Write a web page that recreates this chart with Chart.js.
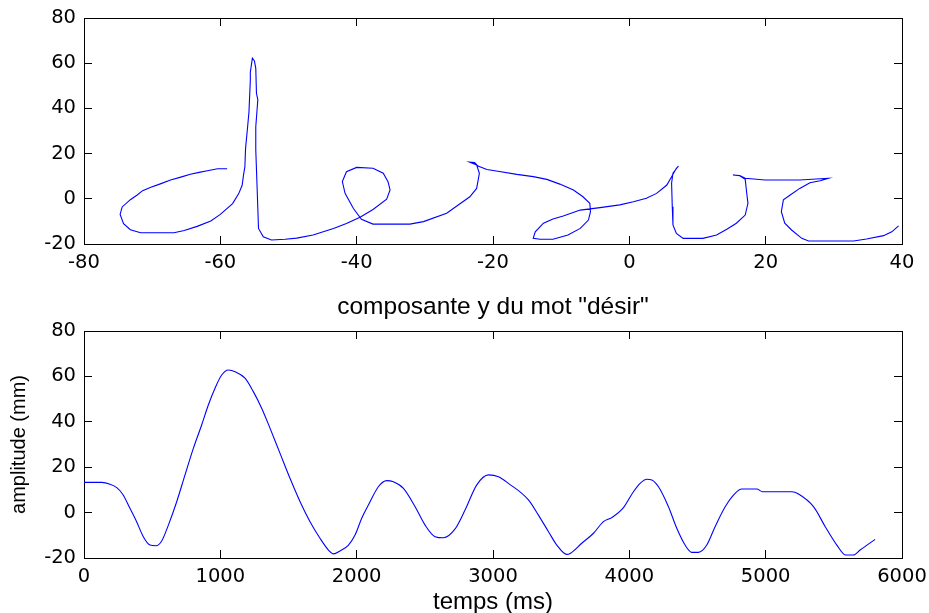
<!DOCTYPE html>
<html lang="fr">
<head>
<meta charset="utf-8">
<title>composante y du mot "désir"</title>
<script src="https://cdn.jsdelivr.net/npm/chart.js@4.4.1/dist/chart.umd.min.js"></script>
<style>
  html, body { margin: 0; padding: 0; background: #fff; overflow: hidden; }
  body { width: 929px; height: 613px; position: relative; }
  canvas { position: absolute; left: 0; }
  #traceChart { top: 0; }
  #timeChart { top: 280px; }
</style>
</head>
<body>
<canvas id="traceChart" width="929" height="290"></canvas>
<canvas id="timeChart" width="929" height="340"></canvas>
<script>
// pen trajectory of the word, in writing order (mm)
const traceX = [
  -59.0, -60.4, -61.9, -63.1, -64.4, -65.8, -67.3, -68.8, -70.2, -71.4,
  -72.2, -73.2, -74.4, -74.7, -74.2, -73.2, -71.7, -66.8, -65.3, -63.4,
  -61.4, -60.0, -58.2, -57.3, -56.8, -56.6, -56.4, -56.3, -56.0, -55.8,
  -55.6, -55.6, -55.3, -55.0, -54.8, -54.7, -54.5, -54.8, -54.8, -54.6,
  -54.4, -53.7, -52.5, -50.5, -48.8, -46.4, -43.4, -41.5, -39.5, -37.6,
  -35.6, -35.1, -35.4, -36.1, -37.6, -40.0, -41.5, -42.1, -41.7, -40.5,
  -39.3, -37.6, -32.2, -30.2, -26.8, -23.4, -22.4, -22.0, -22.4, -23.4,
  -22.7, -22.2, -20.9, -19.5, -16.5, -14.1, -12.1, -10.2, -8.2, -6.8,
  -5.8, -5.7, -6.0, -7.2, -9.0, -11.2, -13.1, -14.1, -13.8, -12.6,
  -11.2, -9.7, -7.2, -4.3, -1.4, 0.6, 2.5, 4.0, 5.5, 6.2,
  6.9, 7.2, 6.4, 6.2, 6.3, 6.4, 6.9, 7.9, 10.8, 12.8,
  14.3, 15.7, 17.0, 17.4, 17.2, 17.0, 16.2, 15.2, 16.2, 17.0,
  19.9, 25.0, 29.2, 28.0, 26.5, 25.0, 23.6, 22.6, 22.3, 22.8,
  23.8, 25.3, 26.3, 32.9, 34.8, 37.3, 38.5, 39.5
];
const traceY = [
  13.3, 13.3, 12.4, 11.7, 10.9, 9.6, 8.3, 6.6, 5.1, 3.6,
  1.7, -0.4, -3.6, -6.9, -11.0, -13.7, -15.0, -15.0, -14.0, -12.2,
  -9.8, -6.9, -2.1, 2.3, 6.0, 10.5, 14.1, 22.3, 31.8, 38.4,
  52.4, 56.0, 62.2, 61.0, 57.7, 46.7, 43.8, 31.9, 21.6, 4.6,
  -13.1, -16.8, -18.2, -17.9, -17.4, -16.0, -13.1, -10.9, -8.2, -4.7,
  -0.2, 3.9, 7.6, 11.3, 13.5, 13.9, 12.0, 7.6, 2.4, -4.2,
  -9.1, -11.2, -11.2, -10.1, -6.4, 0.9, 4.6, 11.3, 15.0, 16.2,
  16.0, 14.5, 13.0, 12.3, 10.8, 9.8, 8.6, 6.5, 3.9, 0.9,
  -2.0, -5.7, -9.4, -13.1, -16.0, -17.9, -17.9, -17.5, -14.6, -10.8,
  -8.9, -7.6, -5.0, -3.9, -2.7, -1.3, 0.2, 2.4, 6.1, 9.8,
  13.5, 14.5, 11.3, 6.9, -3.5, -11.6, -15.3, -17.5, -17.5, -16.0,
  -13.5, -10.8, -7.2, -2.0, 3.1, 8.6, 10.2, 10.5, 10.3, 9.1,
  8.3, 8.3, 9.1, 8.0, 7.1, 4.6, 1.7, -0.5, -5.7, -10.8,
  -13.8, -17.5, -18.7, -18.7, -17.8, -16.3, -14.6, -12.0
];

// y component against time
const timeMs = [
  0, 130, 191, 240, 284, 337, 386, 435, 484, 528,
  570, 619, 680, 741, 802, 863, 912, 961, 1010, 1059,
  1108, 1181, 1242, 1304, 1365, 1438, 1511, 1585, 1658, 1731,
  1793, 1830, 1878, 1940, 1988, 2037, 2086, 2159, 2221, 2269,
  2343, 2429, 2502, 2575, 2636, 2722, 2795, 2881, 2967, 3040,
  3113, 3260, 3333, 3407, 3468, 3541, 3566, 3651, 3737, 3810,
  3871, 3957, 4030, 4079, 4128, 4165, 4214, 4287, 4348, 4409,
  4458, 4507, 4568, 4629, 4703, 4776, 4825, 4935, 4977, 5192,
  5241, 5351, 5437, 5522, 5588, 5644, 5693, 5803
];
const amplitudeMm = [
  13.3, 13.3, 12.5, 11.0, 8.1, 1.9, -4.0, -10.6, -14.3, -14.6,
  -12.5, -5.5, 4.8, 16.6, 28.3, 38.6, 47.4, 54.8, 60.6, 62.8,
  62.1, 59.2, 53.3, 45.9, 37.1, 26.1, 15.1, 4.8, -4.0, -11.3,
  -16.5, -18.2, -16.9, -14.3, -9.9, -2.5, 3.3, 11.4, 14.1, 13.6,
  10.7, 2.6, -5.5, -10.6, -11.1, -7.2, 1.1, 12.2, 16.6, 15.8,
  12.9, 5.6, -1.1, -8.4, -14.3, -18.4, -18.0, -13.5, -9.1, -4.0,
  -2.2, 2.2, 9.2, 12.9, 14.7, 14.4, 11.4, 2.6, -6.9, -14.3,
  -17.5, -17.5, -14.3, -6.2, 2.6, 8.5, 10.4, 10.4, 9.2, 9.2,
  8.2, 2.6, -6.2, -14.3, -18.7, -18.7, -16.5, -11.8
];

// tick labels
const traceXTicks = [-80, -60, -40, -20, 0, 20, 40];
const ampTicks = [-20, 0, 20, 40, 60, 80];
const timeTicks = [0, 1000, 2000, 3000, 4000, 5000, 6000];

const INK = '#000000';
const PEN = '#0000ff';
const TICK_FONT = { family: "'DejaVu Sans', sans-serif", size: 19.5 };
const LABEL_FAMILY = "'Liberation Sans', Arial, sans-serif";

/* one side of the MATLAB style box: inward ticks, labels optional.
   size is forced so the plot box lands where the original one is,
   and the label overhang padding is dropped so it can't push the box */
function boxAxis(position, ticks, showLabels, size, pad) {
  return {
    type: 'linear',
    position,
    min: ticks[0],
    max: ticks[ticks.length - 1],
    afterBuildTicks: s => { s.ticks = ticks.map(v => ({ value: v })); },
    afterFit: s => {
      if (s.isHorizontal()) s.height = size;
      else s.width = size;
      s.paddingTop = s.paddingBottom = s.paddingLeft = s.paddingRight = 0;
    },
    grid: { drawOnChartArea: false, drawTicks: true, tickLength: -8, color: INK, lineWidth: 1 },
    border: { display: true, color: INK, width: 1 },
    ticks: {
      display: showLabels,
      color: INK,
      font: TICK_FONT,
      padding: pad,
      maxRotation: 0,
      autoSkip: false,
      callback: v => String(v)
    }
  };
}

Chart.defaults.animation = false;

/* top: handwriting trajectory */
const traceCtx = document.getElementById('traceChart').getContext('2d');
new Chart(traceCtx, {
  type: 'scatter',
  data: {
    datasets: [{
      data: traceX.map((x, i) => ({ x, y: traceY[i] })),
      showLine: true,
      borderColor: PEN,
      borderWidth: 1.1,
      pointRadius: 0,
      tension: 0,
      fill: false
    }]
  },
  options: {
    responsive: false,
    devicePixelRatio: 1,
    layout: { padding: 0 },
    plugins: { legend: { display: false }, tooltip: { enabled: false } },
    scales: {
      x: boxAxis('bottom', traceXTicks, true, 46, 15),
      x2: boxAxis('top', traceXTicks, false, 18, 0),
      y: boxAxis('left', ampTicks, true, 84, 16),
      y2: boxAxis('right', ampTicks, false, 27, 0)
    }
  }
});

/* bottom: y component over time */
const timeCtx = document.getElementById('timeChart').getContext('2d');
const timeX = boxAxis('bottom', timeTicks, true, 62, 15);
timeX.title = {
  display: true,
  text: 'temps (ms)',
  color: INK,
  font: { family: LABEL_FAMILY, size: 24, lineHeight: 1.2 },
  padding: { top: 0, bottom: 3 }
};
const timeY = boxAxis('left', ampTicks, true, 84, 16);
timeY.title = {
  display: true,
  text: 'amplitude (mm)',
  color: INK,
  font: { family: LABEL_FAMILY, size: 20, lineHeight: 1.2 },
  padding: { top: 7, bottom: 0 }
};

new Chart(timeCtx, {
  type: 'line',
  data: {
    datasets: [{
      data: timeMs.map((t, i) => ({ x: t, y: amplitudeMm[i] })),
      borderColor: PEN,
      borderWidth: 1.1,
      pointRadius: 0,
      cubicInterpolationMode: 'monotone',
      fill: false
    }]
  },
  options: {
    responsive: false,
    devicePixelRatio: 1,
    layout: { padding: 0 },
    plugins: {
      legend: { display: false },
      tooltip: { enabled: false },
      title: {
        display: true,
        fullSize: false,
        text: 'composante y du mot "désir"',
        color: INK,
        font: { family: LABEL_FAMILY, size: 24.5, weight: 'normal', lineHeight: 1.2 },
        padding: { top: 12.3, bottom: 9.3 }
      }
    },
    scales: {
      x: timeX,
      x2: boxAxis('top', timeTicks, false, 0, 0),
      y: timeY,
      y2: boxAxis('right', ampTicks, false, 27, 0)
    }
  }
});
</script>
</body>
</html>
